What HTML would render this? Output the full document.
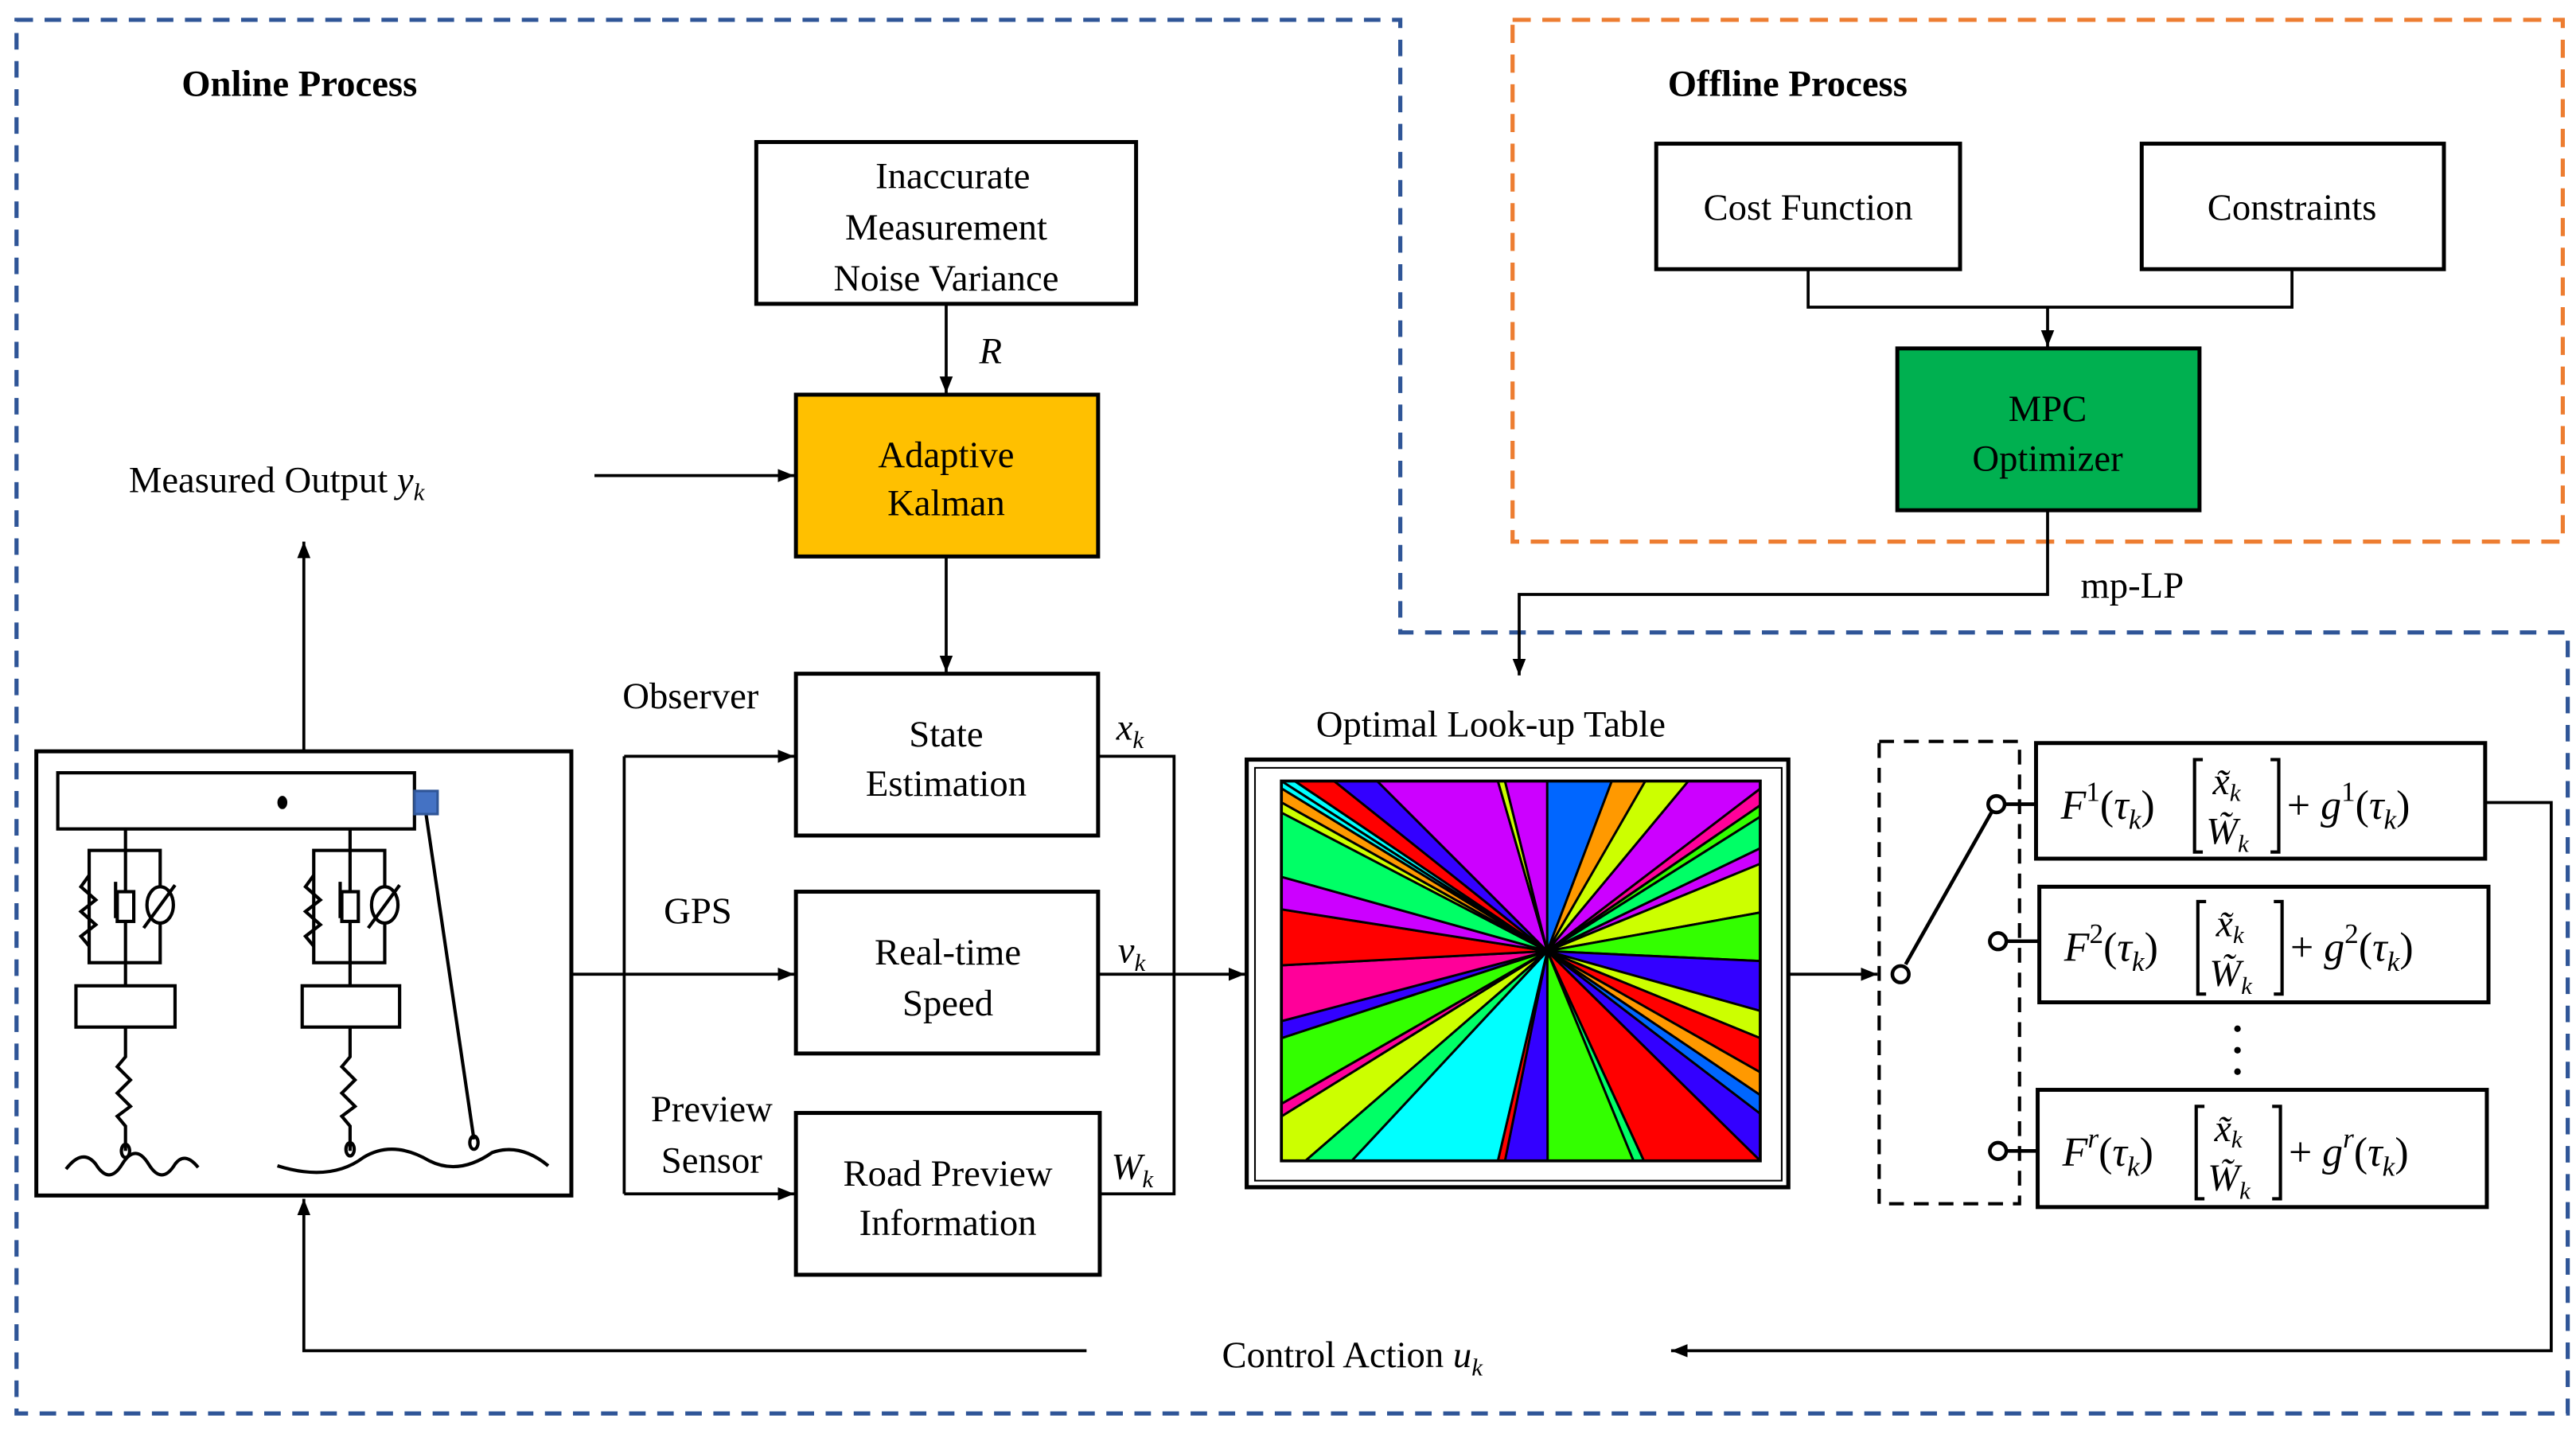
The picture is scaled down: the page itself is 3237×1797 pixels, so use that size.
<!DOCTYPE html>
<html><head><meta charset="utf-8"><style>
html,body{margin:0;padding:0;background:#fff}
svg{display:block}
text{font-family:"Liberation Serif",serif;fill:#000}
.t{font-size:22.5px}
.b{font-size:22.5px;font-weight:bold}
.i{font-style:italic}
.f{font-size:25px}
</style></head><body>
<svg width="3237" height="1797" viewBox="0 0 1560 866" xmlns="http://www.w3.org/2000/svg">
<defs>
<marker id="a" markerWidth="10" markerHeight="8" refX="10" refY="4" orient="auto" markerUnits="userSpaceOnUse"><path d="M0,0 L10,4 L0,8 Z" fill="#000"/></marker>
</defs>
<rect width="1560" height="866" fill="#fff"/>
<path d="M10,12 H848 V383 H1555 V856 H10 Z" fill="none" stroke="#2F5597" stroke-width="2.5" stroke-dasharray="10,7"/>
<rect x="916" y="12" width="636" height="316" fill="none" stroke="#ED7D31" stroke-width="2.5" stroke-dasharray="11,7"/>
<text x="110" y="58" class="b">Online Process</text>
<text x="1010" y="58" class="b">Offline Process</text>

<g fill="none" stroke="#000" stroke-width="2.4">
<rect x="458" y="86" width="230" height="98"/>
<rect x="482" y="239" width="183" height="98" fill="#FFC000"/>
<rect x="482" y="408" width="183" height="98"/>
<rect x="482" y="540" width="183" height="98"/>
<rect x="482" y="674" width="184" height="98"/>
<rect x="22" y="455" width="324" height="269"/>
<rect x="1003" y="87" width="184" height="76"/>
<rect x="1297" y="87" width="183" height="76"/>
<rect x="1149" y="211" width="183" height="98" fill="#00B050"/>
<rect x="1233" y="450" width="272" height="70"/>
<rect x="1235" y="537" width="272" height="70"/>
<rect x="1234" y="660" width="272" height="71"/>
</g>

<g stroke="#000" stroke-width="1.8" fill="none">
<line x1="573" y1="184" x2="573" y2="238" marker-end="url(#a)"/>
<line x1="360" y1="288" x2="481" y2="288" marker-end="url(#a)"/>
<line x1="573" y1="337" x2="573" y2="407" marker-end="url(#a)"/>
<line x1="184" y1="455" x2="184" y2="328" marker-end="url(#a)"/>
<polyline points="346,590 378,590"/>
<line x1="378" y1="458" x2="378" y2="723"/>
<line x1="378" y1="458" x2="481" y2="458" marker-end="url(#a)"/>
<line x1="378" y1="590" x2="481" y2="590" marker-end="url(#a)"/>
<line x1="378" y1="723" x2="481" y2="723" marker-end="url(#a)"/>
<polyline points="665,458 711,458 711,723 666,723"/>
<line x1="665" y1="590" x2="754" y2="590" marker-end="url(#a)"/>
<polyline points="1095,163 1095,186 1388,186 1388,163"/>
<line x1="1240" y1="186" x2="1240" y2="210" marker-end="url(#a)"/>
<polyline points="1240,309 1240,360 920,360 920,409" marker-end="url(#a)"/>
<line x1="1083" y1="590" x2="1137" y2="590" marker-end="url(#a)"/>
<polyline points="1505,486 1545,486 1545,818 1012,818" marker-end="url(#a)"/>
<polyline points="658,818 184,818 184,726" marker-end="url(#a)"/>
<rect x="1138" y="449" width="85" height="280" stroke-width="2" stroke-dasharray="9,6"/>
<line x1="1154" y1="584" x2="1206" y2="492" stroke-width="2.2"/>
<line x1="1214" y1="487" x2="1233" y2="487" stroke-width="2.2"/>
<line x1="1214" y1="570" x2="1235" y2="570" stroke-width="2.2"/>
<line x1="1214" y1="697" x2="1234" y2="697" stroke-width="2.2"/>
<circle cx="1151" cy="590" r="5" fill="#fff" stroke-width="2.2"/>
<circle cx="1209" cy="487" r="5" fill="#fff" stroke-width="2.2"/>
<circle cx="1210" cy="570" r="5" fill="#fff" stroke-width="2.2"/>
<circle cx="1210" cy="697" r="5" fill="#fff" stroke-width="2.2"/>
</g>
<circle cx="1355" cy="623" r="2" fill="#000"/>
<circle cx="1355" cy="636" r="2" fill="#000"/>
<circle cx="1355" cy="649" r="2" fill="#000"/>

<g class="t" text-anchor="middle">
<text x="577" y="114" class="t">Inaccurate</text>
<text x="573" y="145" class="t">Measurement</text>
<text x="573" y="176" class="t">Noise Variance</text>
<text x="573" y="283" class="t">Adaptive</text>
<text x="573" y="312" class="t">Kalman</text>
<text x="573" y="452" class="t">State</text>
<text x="573" y="482" class="t">Estimation</text>
<text x="574" y="584" class="t">Real-time</text>
<text x="574" y="615" class="t">Speed</text>
<text x="574" y="718" class="t">Road Preview</text>
<text x="574" y="748" class="t">Information</text>
<text x="1095" y="133" class="t">Cost Function</text>
<text x="1388" y="133" class="t">Constraints</text>
<text x="1240" y="255" class="t">MPC</text>
<text x="1240" y="285" class="t">Optimizer</text>
<text x="431" y="679" class="t">Preview</text>
<text x="431" y="710" class="t">Sensor</text>
</g>
<text x="593" y="220" class="t i">R</text>
<text x="78" y="298" class="t">Measured Output <tspan class="i">y</tspan><tspan class="i" font-size="15" dy="5">k</tspan></text>
<text x="377" y="429" class="t">Observer</text>
<text x="402" y="559" class="t">GPS</text>
<text x="676" y="448" class="t i">x<tspan font-size="15" dy="5">k</tspan></text>
<text x="677" y="583" class="t i">v<tspan font-size="15" dy="5">k</tspan></text>
<text x="673" y="714" class="t i">W<tspan font-size="15" dy="5">k</tspan></text>
<text x="797" y="446" class="t">Optimal Look-up Table</text>
<text x="1260" y="362" class="t">mp-LP</text>
<text x="740" y="828" class="t">Control Action <tspan class="i">u</tspan><tspan class="i" font-size="15" dy="5">k</tspan></text>

<text x="1248" y="496" class="f"><tspan class="i">F</tspan><tspan font-size="17" dy="-11">1</tspan><tspan dy="11">(</tspan><tspan class="i">τ</tspan><tspan class="i" font-size="17" dy="6">k</tspan><tspan dy="-6">)</tspan></text>
<path d="M1334,460 h-5 v56 h5 M1375,460 h5 v56 h-5" stroke="#000" stroke-width="2" fill="none"/>
<text x="1340" y="481" font-size="23" class="i">x̃<tspan font-size="15" dy="4">k</tspan></text>
<text x="1336" y="511" font-size="23" class="i">W̃<tspan font-size="15" dy="5">k</tspan></text>
<text x="1385" y="496" class="f">+ <tspan class="i">g</tspan><tspan font-size="17" dy="-11">1</tspan><tspan dy="11">(</tspan><tspan class="i">τ</tspan><tspan class="i" font-size="17" dy="6">k</tspan><tspan dy="-6">)</tspan></text>

<text x="1250" y="582" class="f"><tspan class="i">F</tspan><tspan font-size="17" dy="-11">2</tspan><tspan dy="11">(</tspan><tspan class="i">τ</tspan><tspan class="i" font-size="17" dy="6">k</tspan><tspan dy="-6">)</tspan></text>
<path d="M1336,546 h-5 v56 h5 M1377,546 h5 v56 h-5" stroke="#000" stroke-width="2" fill="none"/>
<text x="1342" y="567" font-size="23" class="i">x̃<tspan font-size="15" dy="4">k</tspan></text>
<text x="1338" y="597" font-size="23" class="i">W̃<tspan font-size="15" dy="5">k</tspan></text>
<text x="1387" y="582" class="f">+ <tspan class="i">g</tspan><tspan font-size="17" dy="-11">2</tspan><tspan dy="11">(</tspan><tspan class="i">τ</tspan><tspan class="i" font-size="17" dy="6">k</tspan><tspan dy="-6">)</tspan></text>

<text x="1249" y="706" class="f"><tspan class="i">F</tspan><tspan font-size="17" dy="-11" class="i">r</tspan><tspan dy="11">(</tspan><tspan class="i">τ</tspan><tspan class="i" font-size="17" dy="6">k</tspan><tspan dy="-6">)</tspan></text>
<path d="M1335,670 h-5 v56 h5 M1376,670 h5 v56 h-5" stroke="#000" stroke-width="2" fill="none"/>
<text x="1341" y="691" font-size="23" class="i">x̃<tspan font-size="15" dy="4">k</tspan></text>
<text x="1337" y="721" font-size="23" class="i">W̃<tspan font-size="15" dy="5">k</tspan></text>
<text x="1386" y="706" class="f">+ <tspan class="i">g</tspan><tspan font-size="17" dy="-11" class="i">r</tspan><tspan dy="11">(</tspan><tspan class="i">τ</tspan><tspan class="i" font-size="17" dy="6">k</tspan><tspan dy="-6">)</tspan></text>

<rect x="755" y="460" width="328" height="259" fill="#fff" stroke="#000" stroke-width="2.5"/>
<rect x="760" y="465" width="319" height="250" fill="none" stroke="#000" stroke-width="1"/>
<g stroke="#000" stroke-width="1.4" stroke-linejoin="round">
<polygon points="937,576 776,473 784.1,473" fill="#00FFFF"/>
<polygon points="937,576 784.1,473 807.9,473" fill="#FF0000"/>
<polygon points="937,576 807.9,473 834,473" fill="#3300FF"/>
<polygon points="937,576 834,473 907.1,473" fill="#CC00FF"/>
<polygon points="937,576 907.1,473 911.4,473" fill="#CCFF00"/>
<polygon points="937,576 911.4,473 937,473" fill="#CC00FF"/>
<polygon points="937,576 937,473 976.1,473" fill="#0066FF"/>
<polygon points="937,576 976.1,473 996.4,473" fill="#FF9900"/>
<polygon points="937,576 996.4,473 1022.5,473" fill="#CCFF00"/>
<polygon points="937,576 1022.5,473 1066,473 1066,477.6" fill="#CC00FF"/>
<polygon points="937,576 1066,477.6 1066,487.7" fill="#FF0099"/>
<polygon points="937,576 1066,487.7 1066,494.6" fill="#33FF00"/>
<polygon points="937,576 1066,494.6 1066,513.7" fill="#00FF66"/>
<polygon points="937,576 1066,513.7 1066,523.1" fill="#CC00FF"/>
<polygon points="937,576 1066,523.1 1066,552.6" fill="#CCFF00"/>
<polygon points="937,576 1066,552.6 1066,582" fill="#33FF00"/>
<polygon points="937,576 1066,582 1066,612.2" fill="#3300FF"/>
<polygon points="937,576 1066,612.2 1066,628.7" fill="#CCFF00"/>
<polygon points="937,576 1066,628.7 1066,649.4" fill="#FF0000"/>
<polygon points="937,576 1066,649.4 1066,663.2" fill="#FF9900"/>
<polygon points="937,576 1066,663.2 1066,674.5" fill="#0066FF"/>
<polygon points="937,576 1066,674.5 1066,703" fill="#3300FF"/>
<polygon points="937,576 1066,703 995.5,703" fill="#FF0000"/>
<polygon points="937,576 995.5,703 989.2,703" fill="#00FF66"/>
<polygon points="937,576 989.2,703 937.2,703" fill="#33FF00"/>
<polygon points="937,576 937.2,703 911.4,703" fill="#3300FF"/>
<polygon points="937,576 911.4,703 907.1,703" fill="#FF0000"/>
<polygon points="937,576 907.1,703 818.6,703" fill="#00FFFF"/>
<polygon points="937,576 818.6,703 790.5,703" fill="#00FF66"/>
<polygon points="937,576 790.5,703 776,703 776,676.1" fill="#CCFF00"/>
<polygon points="937,576 776,676.1 776,668.5" fill="#FF0099"/>
<polygon points="937,576 776,668.5 776,628.7" fill="#33FF00"/>
<polygon points="937,576 776,628.7 776,618.4" fill="#3300FF"/>
<polygon points="937,576 776,618.4 776,584.6" fill="#FF0099"/>
<polygon points="937,576 776,584.6 776,550.7" fill="#FF0000"/>
<polygon points="937,576 776,550.7 776,531" fill="#CC00FF"/>
<polygon points="937,576 776,531 776,492.1" fill="#00FF66"/>
<polygon points="937,576 776,492.1 776,485.9" fill="#CCFF00"/>
<polygon points="937,576 776,485.9 776,477.4" fill="#FF9900"/>
<polygon points="937,576 776,477.4 776,473" fill="#00FFFF"/>
</g>
<rect x="776" y="473" width="290" height="230" fill="none" stroke="#000" stroke-width="1.8"/>

<g stroke="#000" stroke-width="2" fill="none">
<rect x="35" y="468" width="216" height="34"/>
<line x1="76" y1="502" x2="76" y2="597"/>
<rect x="54" y="515" width="43" height="68"/>
<polyline points="54,530 49,537 58,545 49,552 58,560 49,567 54,573"/>
<rect x="71" y="540" width="10" height="18" fill="#fff"/>
<polyline points="70,534 70,556 M82,534 82,556"/>
<ellipse cx="97" cy="548" rx="8" ry="11" fill="#fff"/>
<line x1="87" y1="562" x2="106" y2="536"/>
<rect x="46" y="597" width="60" height="25"/>
<polyline points="76,622 76,640 71,646 79,654 71,662 79,670 71,676 76,682 76,697"/>
<path d="M40,708 Q50,695 58,705 Q66,718 74,705 Q82,692 90,705 Q98,718 106,705 Q112,697 120,707"/>
<line x1="212" y1="502" x2="212" y2="597"/>
<rect x="190" y="515" width="43" height="68"/>
<polyline points="190,530 185,537 194,545 185,552 194,560 185,567 190,573"/>
<rect x="207" y="540" width="10" height="18" fill="#fff"/>
<polyline points="206,534 206,556 M218,534 218,556"/>
<ellipse cx="233" cy="548" rx="8" ry="11" fill="#fff"/>
<line x1="223" y1="562" x2="242" y2="536"/>
<rect x="183" y="597" width="59" height="25"/>
<polyline points="212,622 212,640 207,646 215,654 207,662 215,670 207,676 212,682 212,697"/>
<path d="M168,706 Q200,716 220,701 Q238,690 260,703 Q278,712 298,698 Q315,692 332,706"/>
<line x1="258" y1="493" x2="287" y2="690"/>
<ellipse cx="212" cy="696" rx="2.5" ry="4"/>
<ellipse cx="287" cy="692" rx="2.5" ry="4"/>
<ellipse cx="76" cy="697" rx="2.5" ry="4"/>
</g>
<ellipse cx="171" cy="486" rx="3" ry="4" fill="#000"/>
<rect x="251" y="479" width="14" height="14" fill="#4472C4" stroke="#2F5597" stroke-width="1.5"/>
</svg>
</body></html>
